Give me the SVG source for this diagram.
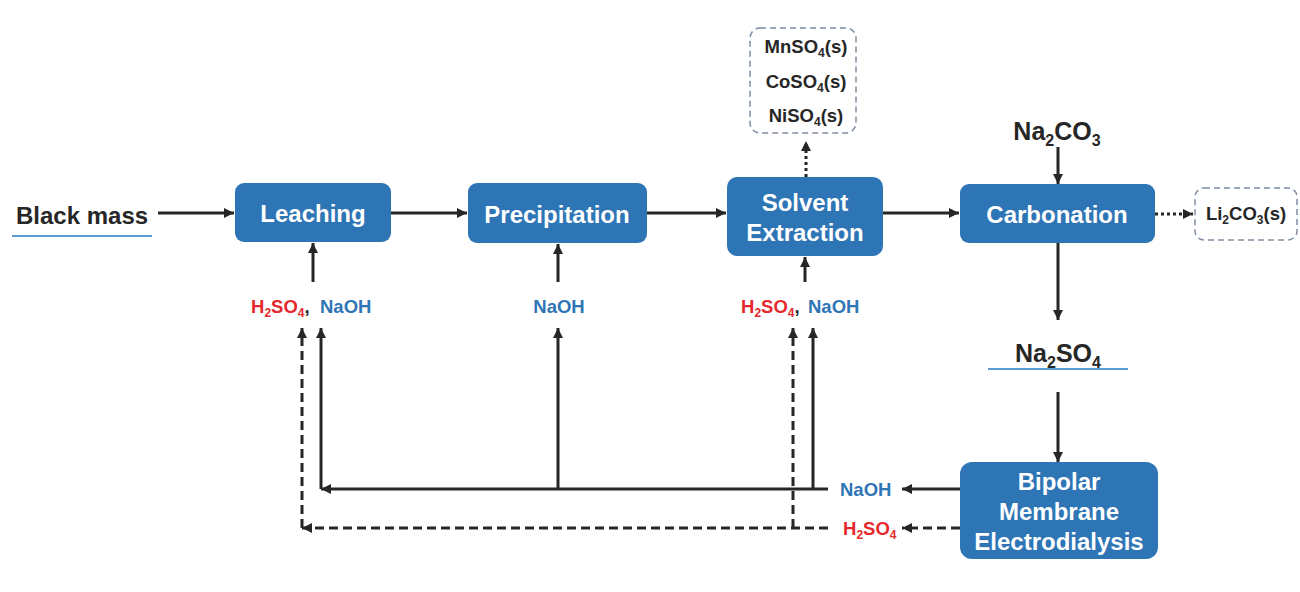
<svg xmlns="http://www.w3.org/2000/svg" width="1300" height="592" viewBox="0 0 1300 592">
<defs>
<marker id="ah" viewBox="0 0 10 10" refX="10" refY="5" markerWidth="11" markerHeight="10" markerUnits="userSpaceOnUse" orient="auto">
<path d="M0,0 L10,5 L0,10 z" fill="#262626"/>
</marker>
<style>
.box{fill:#2e75b6;}
.bt{fill:#ffffff;font-family:"Liberation Sans",Arial,sans-serif;font-weight:bold;font-size:24px;text-anchor:middle;}
.dk{fill:#262626;font-family:"Liberation Sans",Arial,sans-serif;font-weight:bold;}
.lbl{font-family:"Liberation Sans",Arial,sans-serif;font-weight:bold;font-size:18.5px;}
.red{fill:#e5282d;}
.blue{fill:#2e75b6;}
.ln{stroke:#262626;stroke-width:3;fill:none;}
.dash{stroke-dasharray:9 5;}
.dot{stroke-dasharray:3 3;}
.out{fill:#ffffff;stroke:#7d8ea3;stroke-width:1.5;stroke-dasharray:6 4;}
.ul{stroke:#5b9bd5;stroke-width:2;}
</style>
</defs>
<rect width="1300" height="592" fill="#ffffff"/>

<g id="black-mass">
<text class="dk" x="16" y="224" font-size="24">Black mass</text>
<line class="ul" x1="12" y1="236" x2="152" y2="236"/>
</g>

<g id="leaching">
<rect class="box" x="235" y="183" width="156" height="59" rx="9"/>
<text class="bt" x="313" y="222">Leaching</text>
</g>

<g id="precipitation">
<rect class="box" x="468" y="183" width="179" height="60" rx="9"/>
<text class="bt" x="557" y="223">Precipitation</text>
</g>

<g id="solvent-extraction">
<rect class="box" x="727" y="177" width="156" height="79" rx="10"/>
<text class="bt" x="805" y="211">Solvent</text>
<text class="bt" x="805" y="241">Extraction</text>
</g>

<g id="carbonation">
<rect class="box" x="960" y="184" width="195" height="59" rx="9"/>
<text class="bt" x="1057" y="223">Carbonation</text>
</g>

<g id="bpmed">
<rect class="box" x="960" y="462" width="198" height="97" rx="12"/>
<text class="bt" x="1059" y="490">Bipolar</text>
<text class="bt" x="1059" y="520">Membrane</text>
<text class="bt" x="1059" y="550">Electrodialysis</text>
</g>

<g id="sulfates-out">
<rect class="out" x="750" y="28" width="106" height="105" rx="10"/>
<text class="dk" x="806" y="53" font-size="18.5" text-anchor="middle">MnSO<tspan font-size="12" dy="4">4</tspan><tspan dy="-4">(s)</tspan></text>
<text class="dk" x="806" y="88" font-size="18.5" text-anchor="middle">CoSO<tspan font-size="12" dy="4">4</tspan><tspan dy="-4">(s)</tspan></text>
<text class="dk" x="806" y="122" font-size="18.5" text-anchor="middle">NiSO<tspan font-size="12" dy="4">4</tspan><tspan dy="-4">(s)</tspan></text>
</g>

<g id="li2co3-out">
<rect class="out" x="1195" y="188" width="102" height="52" rx="9"/>
<text class="dk" x="1246" y="220" font-size="18.5" text-anchor="middle">Li<tspan font-size="12" dy="4">2</tspan><tspan dy="-4">CO</tspan><tspan font-size="12" dy="4">3</tspan><tspan dy="-4">(s)</tspan></text>
</g>

<g id="na2co3">
<text class="dk" x="1057" y="140" font-size="25" text-anchor="middle">Na<tspan font-size="16" dy="6">2</tspan><tspan dy="-6">CO</tspan><tspan font-size="16" dy="6">3</tspan></text>
</g>

<g id="na2so4">
<text class="dk" x="1058" y="362" font-size="25" text-anchor="middle">Na<tspan font-size="16" dy="6">2</tspan><tspan dy="-6">SO</tspan><tspan font-size="16" dy="6">4</tspan></text>
<line class="ul" x1="988" y1="369" x2="1128" y2="369"/>
</g>

<g id="leach-reagents">
<text class="lbl" x="251" y="313"><tspan class="red">H<tspan font-size="12" dy="4">2</tspan><tspan dy="-4">SO</tspan><tspan font-size="12" dy="4">4</tspan></tspan><tspan fill="#262626" dy="-4">,</tspan></text>
<text class="lbl blue" x="320" y="313">NaOH</text>
</g>

<g id="precip-reagent">
<text class="lbl blue" x="559" y="313" text-anchor="middle">NaOH</text>
</g>

<g id="sx-reagents">
<text class="lbl" x="741" y="313"><tspan class="red">H<tspan font-size="12" dy="4">2</tspan><tspan dy="-4">SO</tspan><tspan font-size="12" dy="4">4</tspan></tspan><tspan fill="#262626" dy="-4">,</tspan></text>
<text class="lbl blue" x="808" y="313">NaOH</text>
</g>

<g id="naoh-product">
<text class="lbl blue" x="840" y="496">NaOH</text>
</g>

<g id="h2so4-product">
<text class="lbl red" x="843" y="535">H<tspan font-size="12" dy="4">2</tspan><tspan dy="-4">SO</tspan><tspan font-size="12" dy="4">4</tspan></text>
</g>

<g id="connectors">
<line class="ln" x1="158" y1="213" x2="234" y2="213" marker-end="url(#ah)"/>
<line class="ln" x1="391" y1="213" x2="467" y2="213" marker-end="url(#ah)"/>
<line class="ln" x1="647" y1="213" x2="726" y2="213" marker-end="url(#ah)"/>
<line class="ln" x1="883" y1="213" x2="959" y2="213" marker-end="url(#ah)"/>
<line class="ln dot" x1="1155" y1="214" x2="1193" y2="214" marker-end="url(#ah)"/>
<line class="ln dot" x1="806" y1="177" x2="806" y2="141" marker-end="url(#ah)"/>
<line class="ln" x1="1058" y1="147" x2="1058" y2="184" marker-end="url(#ah)"/>
<line class="ln" x1="1058" y1="243" x2="1058" y2="320" marker-end="url(#ah)"/>
<line class="ln" x1="1058" y1="392" x2="1058" y2="462" marker-end="url(#ah)"/>
<line class="ln" x1="313" y1="282" x2="313" y2="243" marker-end="url(#ah)"/>
<line class="ln" x1="558" y1="282" x2="558" y2="244" marker-end="url(#ah)"/>
<line class="ln" x1="805" y1="282" x2="805" y2="257" marker-end="url(#ah)"/>
<line class="ln" x1="960" y1="489" x2="902" y2="489" marker-end="url(#ah)"/>
<line class="ln dash" x1="960" y1="528" x2="902" y2="528" marker-end="url(#ah)"/>
<line class="ln" x1="828" y1="489" x2="321" y2="489" marker-end="url(#ah)"/>
<line class="ln" x1="321" y1="489" x2="321" y2="328" marker-end="url(#ah)"/>
<line class="ln" x1="558" y1="489" x2="558" y2="328" marker-end="url(#ah)"/>
<line class="ln" x1="813" y1="489" x2="813" y2="328" marker-end="url(#ah)"/>
<line class="ln dash" x1="828" y1="528" x2="302" y2="528" marker-end="url(#ah)"/>
<line class="ln dash" x1="302" y1="528" x2="302" y2="328" marker-end="url(#ah)"/>
<line class="ln dash" x1="793" y1="528" x2="793" y2="328" marker-end="url(#ah)"/>
</g>
</svg>
